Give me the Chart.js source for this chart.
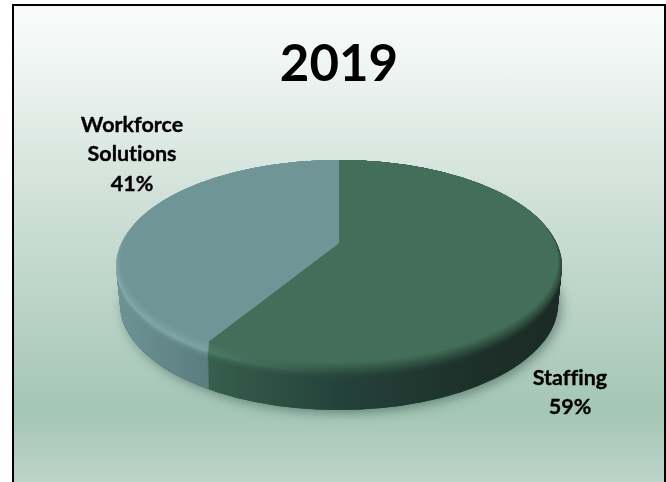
<!DOCTYPE html>
<html><head><meta charset="utf-8">
<style>
html,body{margin:0;padding:0;background:#fff;width:666px;height:482px;overflow:hidden}
#frame{position:absolute;left:12px;top:4px;width:650px;height:490px;border:2px solid #000;
background:linear-gradient(180deg,#f8fbfa 0px,#f3f8f6 40px,#d5e4dd 170px,#c4d9cf 250px,#a4c6b7 405px,#bcd4c9 478px)}
#wrap{position:absolute;left:0;top:0;width:666px;height:482px}
</style></head><body>
<div id="frame"></div>
<div id="wrap"><canvas id="c" width="666" height="482"></canvas></div>
<script src="https://cdn.jsdelivr.net/npm/chart.js@4"></script>
<script>
const chartTitle = '2019';
const categories = ['Staffing', 'Workforce Solutions'];
const shares = [59, 41];
const labelLines = [['Staffing', '59%'], ['Workforce', 'Solutions', '41%']];
const faceColors = ['#436f5a', '#6f9596'];

const GEO = {cx:339, apexY:243, rx:223, ry:106, bevel:9, depth:38, tilt:107};
const LABEL_POS = [{x:570, y:378}, {x:132, y:125}];

function hex(c){return [1,3,5].map(i=>parseInt(c.substr(i,2),16));}
function mix(a,b,t){const A=hex(a),B=hex(b);return `rgb(${A.map((v,i)=>Math.round(v+(B[i]-v)*t)).join(',')})`;}

const wallStops = [
  [[200,'#38604f'],[340,'#24423a'],[470,'#1e302a'],[565,'#1b2a25']],
  [[110,'#6f9596'],[205,'#5b7e7f']]
];
const rimStops = [
  [[200,'#4f7d68'],[340,'#2f5142'],[470,'#2a483c'],[565,'#2a463a']],
  [[110,'#80a9aa'],[205,'#7ba3a4']]
];

const pie3d = {
  id:'pie3d',
  beforeDatasetsDraw(chart){
    const ctx = chart.ctx, arcs = chart.getDatasetMeta(0).data;
    const R = arcs[0].outerRadius, ax = arcs[0].x, ay = arcs[0].y;
    const zoom = 1.45;
    const sx = GEO.rx/R*zoom, sy = GEO.tilt/R*zoom;
    const original = arcs.map(a=>a.options);
    const gradient = (stops, t, other)=>{
      const toLocal = X => ax + (X-GEO.cx)/sx;
      const g = ctx.createLinearGradient(toLocal(stops[0][0]),0,toLocal(stops[stops.length-1][0]),0);
      const x0 = stops[0][0], x1 = stops[stops.length-1][0];
      stops.forEach((s,k)=>g.addColorStop((s[0]-x0)/(x1-x0), mix(s[1], other[k][1], t)));
      return g;
    };
    const layer = (cy, rx, ry, apex, fills)=>{
      ctx.save();
      ctx.beginPath(); ctx.ellipse(GEO.cx, cy, rx, ry, 0, 0, Math.PI*2); ctx.clip();
      ctx.translate(GEO.cx, apex); ctx.scale(sx, sy); ctx.translate(-ax, -ay);
      arcs.forEach((a,i)=>{ a.options = Object.assign({}, original[i], {backgroundColor:fills[i], borderWidth:0}); a.draw(ctx); });
      ctx.restore();
    };
    ctx.save();
    ctx.shadowColor='rgba(35,70,58,0.5)'; ctx.shadowBlur=11; ctx.shadowOffsetX=3; ctx.shadowOffsetY=3;
    ctx.fillStyle='#2a463b';
    ctx.beginPath(); ctx.ellipse(GEO.cx, 266+GEO.depth, GEO.rx-4, GEO.ry, 0, 0, Math.PI*2); ctx.fill();
    ctx.restore();
    for(let d=GEO.depth; d>=0; d-=1){
      const t = d<9 ? 1-d/9 : 0;
      const fills = [0,1].map(i=>gradient(wallStops[i], t*t, rimStops[i]));
      layer(266+d, GEO.rx-4*d/GEO.depth, GEO.ry, GEO.apexY+GEO.bevel+d, fills);
    }
    for(let d=GEO.bevel; d>=0; d-=1){
      const t = 1-d/GEO.bevel;
      const fills = [0,1].map(i=>{
        const faces = rimStops[i].map(s=>[s[0],faceColors[i]]);
        return gradient(rimStops[i], t, faces);
      });
      const ry = 101+5*d/GEO.bevel, rx = 219+4*d/GEO.bevel;
      layer(160+ry, rx, ry, GEO.apexY+d, fills);
    }
    arcs.forEach((a,i)=>a.options=original[i]);
    return false;
  },
  afterDraw(chart){
    const ctx = chart.ctx;
    ctx.save();
    ctx.fillStyle='#000'; ctx.strokeStyle='#000'; ctx.lineWidth=0.35; ctx.lineJoin='round';
    ctx.textAlign='center'; ctx.textBaseline='middle';
    ctx.font='bold 21.5px Lato, Carlito, sans-serif';
    ctx.textRendering='optimizeSpeed';
    labelLines.forEach((lines,i)=>lines.forEach((s,k)=>{
      const y = LABEL_POS[i].y + k*29.3;
      ctx.fillText(s, LABEL_POS[i].x, y); ctx.strokeText(s, LABEL_POS[i].x, y);
    }));
    ctx.restore();
  }
};

new Chart(document.getElementById('c'), {
  type:'pie',
  data:{labels:categories, datasets:[{data:shares, backgroundColor:faceColors, borderWidth:0}]},
  options:{
    responsive:false, animation:false, devicePixelRatio:1,
    layout:{padding:{left:116, right:104, top:34, bottom:109}},
    plugins:{
      legend:{display:false}, tooltip:{enabled:false},
      title:{display:true, text:chartTitle, color:'#000', align:'center',
        font:{family:'Lato, Carlito, sans-serif', size:51, weight:'bold', lineHeight:1.2},
        padding:{top:0,bottom:64.4}}
    }
  },
  plugins:[pie3d]
});
</script>
</body></html>
